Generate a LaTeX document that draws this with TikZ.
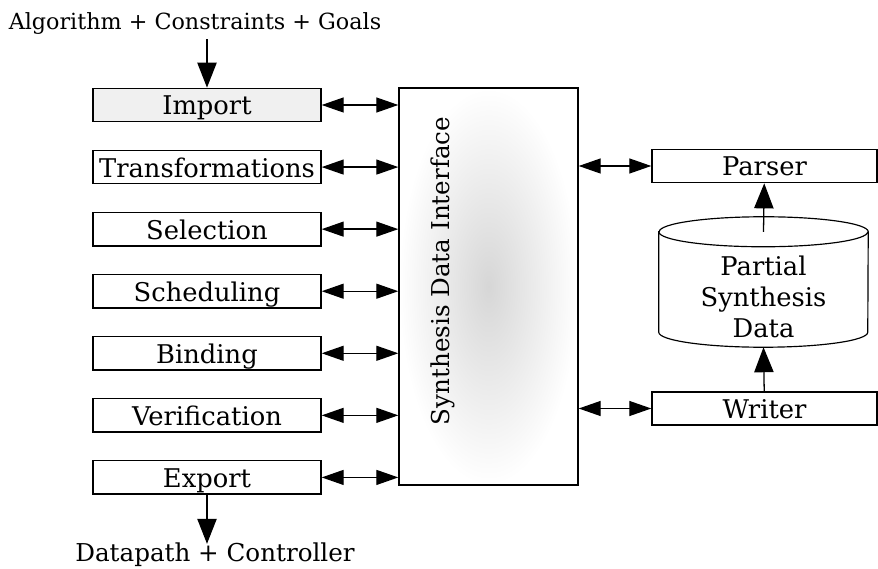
\documentclass[tikz,border=0pt]{standalone}
\usepackage{fontspec}
\setmainfont{DejaVu Serif}
\usetikzlibrary{shapes,arrows.meta,positioning}
\tikzstyle{block} = [draw, rectangle, line width=1.2pt, minimum width=6.84cm, minimum height=1cm, inner sep=1pt, text height=0.7cm, text depth=0.1cm, font=\fontsize{22}{26}\selectfont]
\tikzstyle{link} = [{Triangle[length=0.66cm,width=0.45cm]}-{Triangle[length=0.66cm,width=0.45cm]}, line width=1.1pt]
\tikzstyle{feed} = [-{Triangle[length=0.75cm,width=0.58cm]}, line width=1.1pt]

\begin{document}
\begin{tikzpicture}[font=\fontsize{21}{26.5}\selectfont]
        \useasboundingbox (0,0) rectangle (26.34,-17.07);

        % synthesis tasks
        \node [block, fill=gray!12] (import) at (6.21,-3.15) {Import};
        \node [block] [below = 0.82cm of import] (trans) {Transformations};
        \node [block] [below = 0.82cm of trans] (sel) {Selection};
        \node [block] [below = 0.82cm of sel] (sched) {Scheduling};
        \node [block] [below = 0.82cm of sched] (bind) {Binding};
        \node [block] [below = 0.82cm of bind] (verif) {Verification};
        \node [block] [below = 0.82cm of verif] (export) {Export};

        % interface
        \node [draw, line width=1.2pt, minimum width=5.37cm, minimum height=11.91cm,
               shading=radial, inner color=gray!32, outer color=white] (sdi) at (14.655,-8.595) {};
        \node [rotate=90] (sdilabel) at (13.29,-8.13) {Synthesis Data Interface};

        % data store
        \node [block, minimum width=6.75cm] (parser) at (22.935,-4.98) {Parser};
        \node [block, minimum width=6.75cm] (writer) at (22.935,-12.255) {Writer};
        \node [minimum width=6.27cm, minimum height=3.9cm] (store) at (22.905,-8.46) {};
        \draw [line width=1pt, fill=white] ([yshift=-0.45cm]store.north west)
            -- ([yshift=0.45cm]store.south west)
            arc [start angle=180, end angle=360, x radius=3.135cm, y radius=0.45cm]
            -- ([yshift=-0.45cm]store.north east)
            arc [start angle=0, end angle=180, x radius=3.135cm, y radius=0.45cm] -- cycle;
        \draw [line width=1pt] ([yshift=-0.45cm]store.north west)
            arc [start angle=180, end angle=360, x radius=3.135cm, y radius=0.45cm];
        \node [align=center, font=\fontsize{22}{26.5}\selectfont] (storetext) at ([yshift=-0.45cm]store.center) {Partial\\Synthesis\\Data};

        \node [anchor=base, font=\fontsize{19}{23}\selectfont] (goals) at (5.85,-0.9) {Algorithm + Constraints + Goals};
        \node [anchor=base] (result) at (6.45,-16.86) {Datapath + Controller};
        \coordinate [above = 1.45cm of import] (in);
        \coordinate [below = 1.47cm of export] (out);

        \draw [feed] (in) -- (import);
        \draw [feed] (export) -- (out);
        \foreach \n in {import,trans,sel,sched,bind,verif,export}
            \draw [link] (\n) -- (\n -| sdi.west);
        \draw [link] (sdi.east |- parser) -- (parser);
        \draw [link] (sdi.east |- writer) -- (writer);
        \draw [feed] ([yshift=-0.45cm]store.north) -- (parser);
        \draw [feed] (writer) -- (store.south);
    \end{tikzpicture}
\end{document}
